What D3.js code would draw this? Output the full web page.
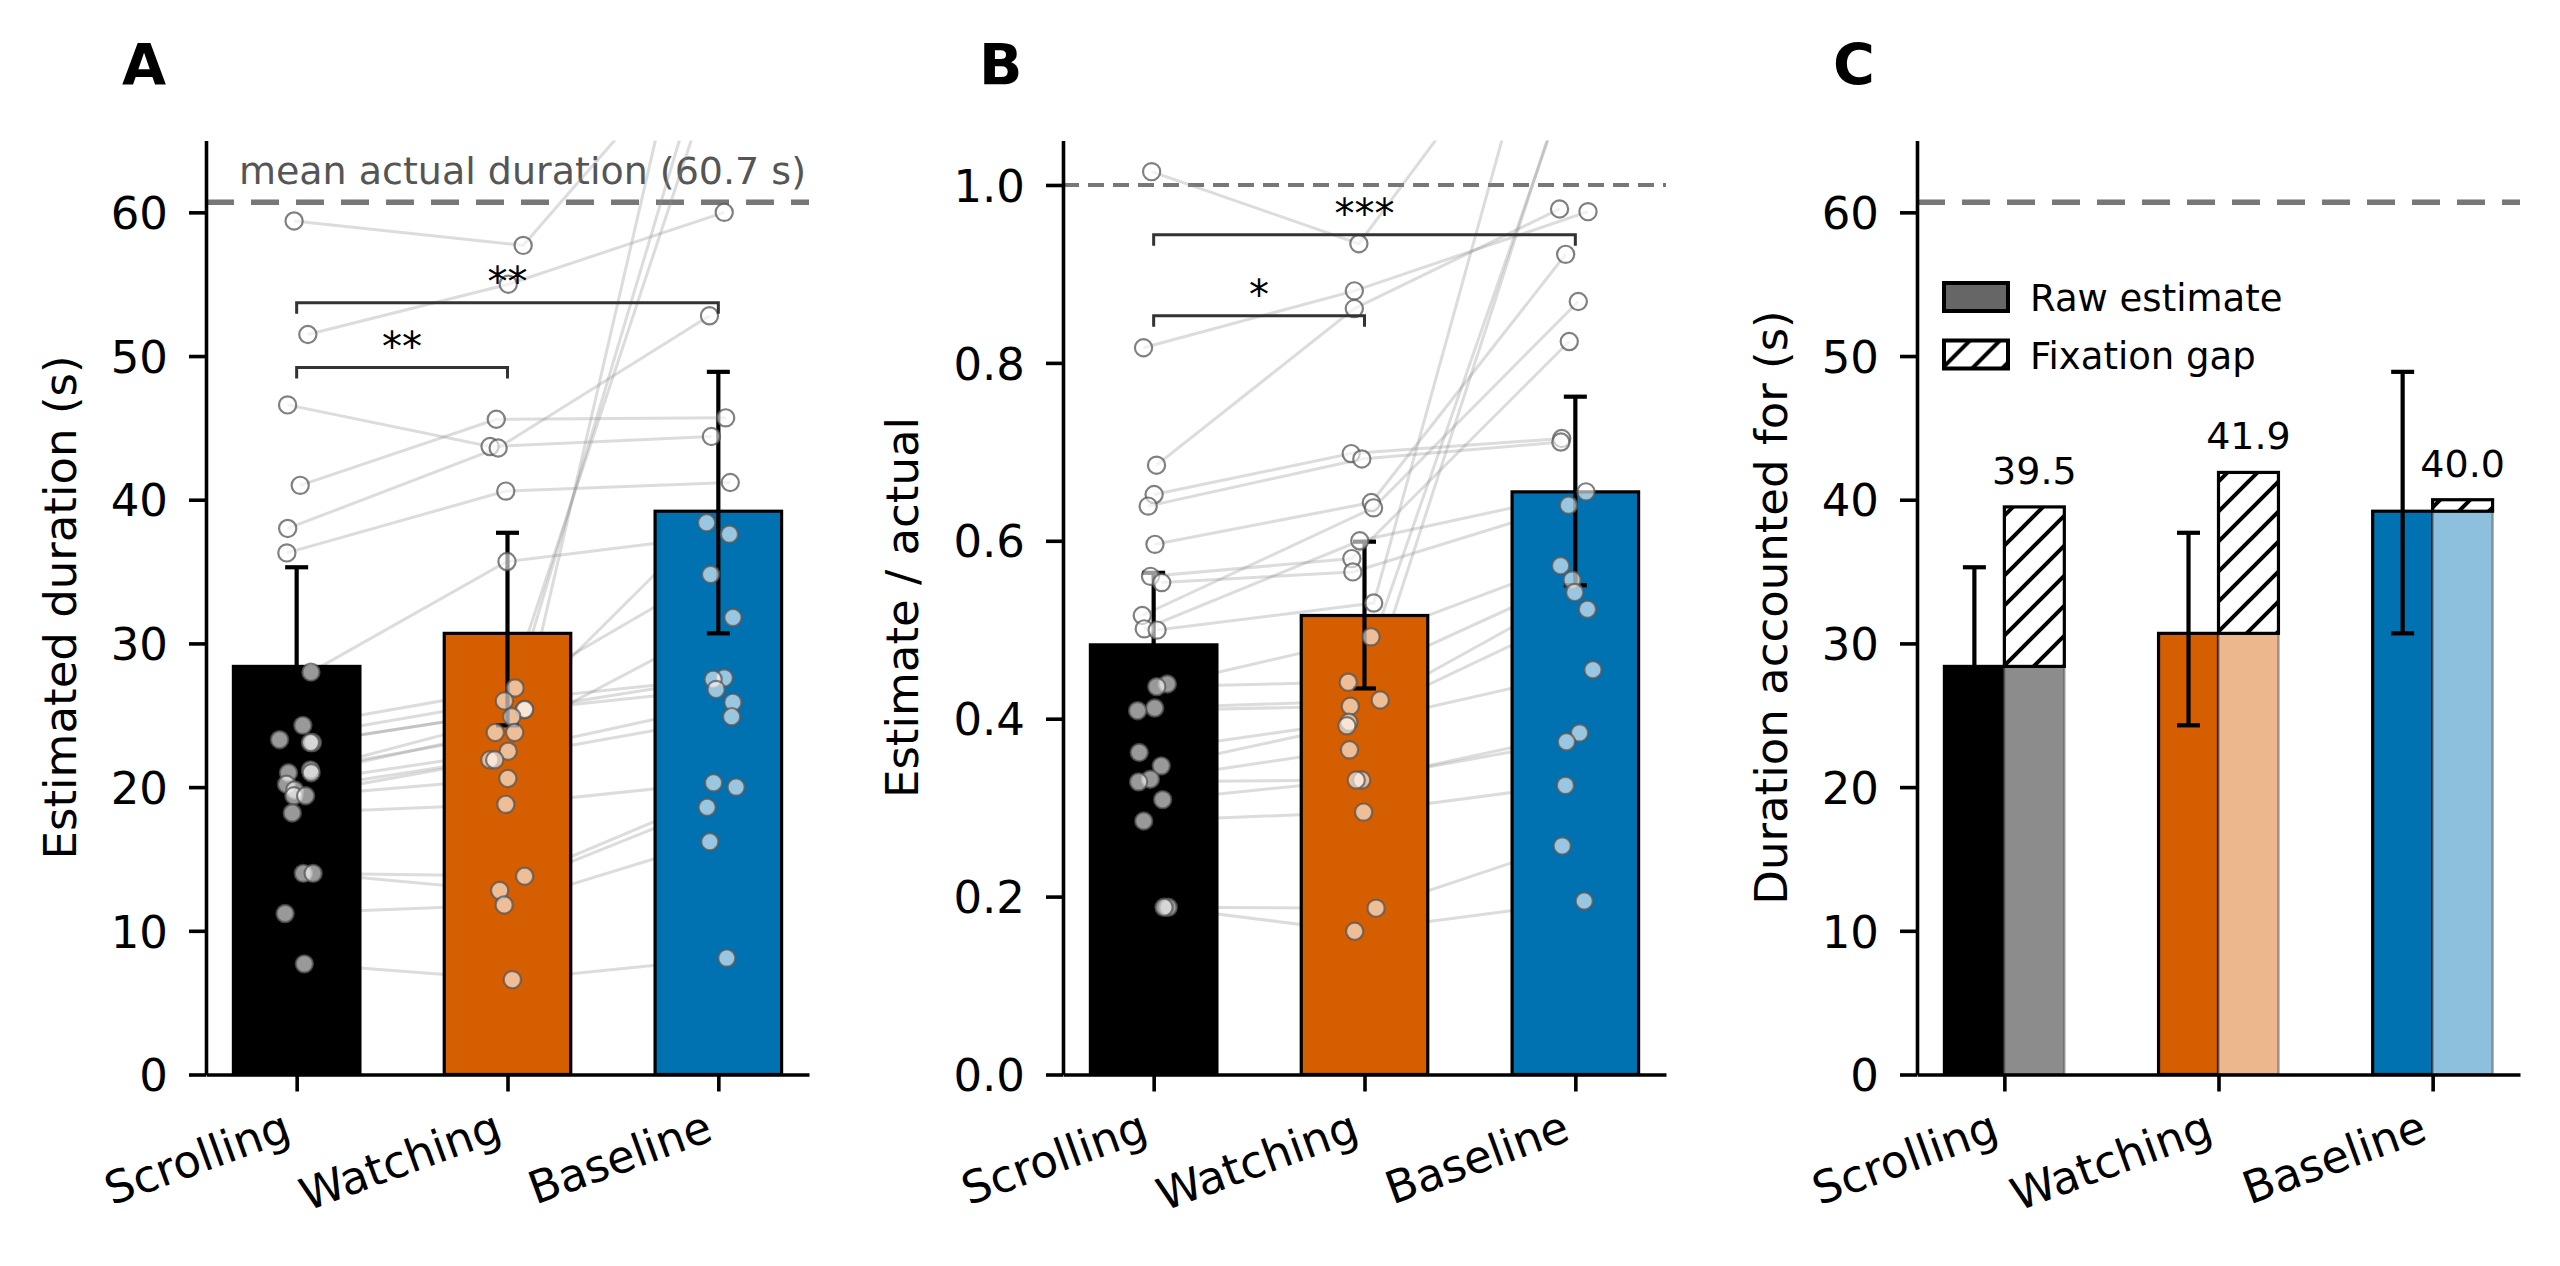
<!DOCTYPE html>
<html>
<head>
<meta charset="utf-8">
<script src="https://cdn.jsdelivr.net/npm/d3@7"></script>
<style>
  body { margin: 0; background: #fff; }
  svg { display: block; font-family: "DejaVu Sans", sans-serif; }
</style>
</head>
<body>
<div id="chart"></div>
<script>
// ---- data ----
const conditions = ['Scrolling', 'Watching', 'Baseline'];
const meanActual = 60.7;

// panel A: group means of the estimated duration (s) with their intervals
const meanEst = [28.4, 30.7, 39.2];
const ciLoEst = [21.5, 24.3, 30.7];
const ciHiEst = [35.3, 37.7, 48.9];

// panel B: estimate / actual
const meanRatio = [0.483, 0.516, 0.655];
const ciLoRatio = [0.41, 0.434, 0.550];
const ciHiRatio = [0.564, 0.599, 0.762];

// panel C: raw estimate + fixation gap
const fixationTotal = [39.5, 41.9, 40.0];

// participants, panel A (same order across the three arrays)
const estScroll = [59.4, 51.5, 46.6, 41.0, 38.0, 36.3, 28.0, 24.3, 23.3, 23.1, 23.1, 21.2,
  21.0, 21.0, 20.2, 19.8, 19.4, 19.4, 18.2, 14.0, 14.0, 11.2, 7.7];
const estWatch = [57.7, 55.0, 43.7, 45.6, 43.6, 40.6, 35.7, 26.9, 26.0, 25.4, 25.4, 24.9,
  23.8, 23.8, 22.5, 21.9, 21.9, 20.6, 18.8, 13.8, 12.8, 11.8, 6.6];
const estBase = [72, 60.0, 44.4, 45.7, 52.8, 41.2, 37.6, 34.8, 27.6, 27.5, 26.8, 38.4,
  70, 31.8, 25.9, 24.9, 73, 82, 20.3, 20.0, 18.6, 16.2, 8.1];

// participants, panel B
const ratioScroll = [1.015, 0.817, 0.685, 0.652, 0.639, 0.596, 0.560, 0.553, 0.516, 0.501, 0.4996, 0.439,
  0.436, 0.412, 0.409, 0.362, 0.347, 0.332, 0.329, 0.309, 0.285, 0.188, 0.188];
const ratioWatch = [0.934, 0.881, 0.861, 0.698, 0.692, 0.643, 0.580, 0.565, 0.637, 0.600, 0.530, 0.492,
  0.441, 0.421, 0.414, 0.396, 0.392, 0.365, 0.331, 0.331, 0.295, 0.187, 0.161];
const ratioBase = [1.25, 0.970, 0.973, 0.715, 0.711, 0.922, 0.824, 0.640, 0.869, 0.655, 1.30, 0.572,
  0.556, 0.542, 1.15, 0.523, 0.455, 1.20, 0.384, 0.374, 0.325, 0.257, 0.195];

const sigA = [{ from: 0, to: 1, y: 49.2, label: '**' }, { from: 0, to: 2, y: 53.7, label: '**' }];
const sigB = [{ from: 0, to: 1, y: 0.853, label: '*' }, { from: 0, to: 2, y: 0.944, label: '***' }];

// ---- layout ----
const W = 2560, H = 1266;
const plotTop = 140.5, plotBottom = 1074.5, panelW = 603;
const colors = ['#000000', '#D55E00', '#0072B2'];
const lightColors = ['#8c8c8c', '#ecb78c', '#8cc0dc'];
const FONT = '"DejaVu Sans", sans-serif';

const svg = d3.select('#chart').append('svg')
  .attr('width', W).attr('height', H)
  .attr('viewBox', `0 0 ${W} ${H}`);

const defs = svg.append('defs');
const hatch = defs.append('pattern')
  .attr('id', 'hatch').attr('patternUnits', 'userSpaceOnUse')
  .attr('width', 30).attr('height', 30);
hatch.append('rect').attr('width', 30).attr('height', 30).attr('fill', '#fff');
hatch.append('path')
  .attr('d', 'M-8,38 L38,-8 M-38,38 L8,-8 M22,38 L68,-8')
  .attr('stroke', '#000').attr('stroke-width', 4);

const jitter = d3.randomUniform.source(d3.randomLcg(0.4217))(-0.085, 0.085);

function makePanel(id, x0, xDomain, yMax) {
  const g = svg.append('g').attr('class', `panel-${id}`);
  const x = d3.scaleLinear().domain(xDomain).range([x0, x0 + panelW]);
  const y = d3.scaleLinear().domain([0, yMax]).range([plotBottom, plotTop]);
  defs.append('clipPath').attr('id', `clip-${id}`)
    .append('rect').attr('x', x0).attr('y', plotTop)
    .attr('width', panelW).attr('height', plotBottom - plotTop);
  return { g, x, y, x0 };
}

function drawAxes(p, yTicks, yFmt, yLabel, xTicks, labelOffset) {
  const { g, x, y, x0 } = p;
  const yAxis = g.append('g').attr('transform', `translate(${x0},0)`)
    .call(d3.axisLeft(y).tickValues(yTicks).tickFormat(yFmt)
      .tickSize(17).tickSizeOuter(0).tickPadding(21));
  const xAxis = g.append('g').attr('transform', `translate(0,${plotBottom})`)
    .call(d3.axisBottom(x).tickValues(xTicks).tickFormat((d, i) => conditions[i])
      .tickSize(17).tickSizeOuter(0));
  [yAxis, xAxis].forEach(a => {
    a.attr('font-family', FONT).attr('font-size', 45);
    a.selectAll('.domain, .tick line').attr('stroke', '#000').attr('stroke-width', 3.6);
    a.selectAll('text').attr('fill', '#000');
  });
  yAxis.selectAll('text').attr('dy', '0.36em');
  xAxis.selectAll('text')
    .attr('y', null).attr('dy', null).attr('x', null)
    .attr('text-anchor', 'end')
    .attr('transform', 'translate(-4,65) rotate(-20)');
  g.append('text')
    .attr('transform', `translate(${x0 - labelOffset},${(plotTop + plotBottom) / 2}) rotate(-90)`)
    .attr('text-anchor', 'middle').attr('font-size', 45).attr('font-family', FONT)
    .text(yLabel);
}

function panelLetter(p, letter) {
  p.g.append('text').attr('x', p.x0 - 84).attr('y', 85)
    .attr('font-size', 57).attr('font-weight', 'bold').attr('font-family', FONT)
    .text(letter);
}

function refLine(p, value, width, dash) {
  p.g.append('line')
    .attr('x1', p.x0).attr('x2', p.x0 + panelW)
    .attr('y1', p.y(value)).attr('y2', p.y(value))
    .attr('stroke', '#777').attr('stroke-width', width)
    .attr('stroke-dasharray', dash);
}

function errorBars(p, xs, lo, hi) {
  const eg = p.g.append('g').attr('class', 'errorbars');
  xs.forEach((cx, i) => {
    eg.append('line').attr('x1', cx).attr('x2', cx)
      .attr('y1', p.y(lo[i])).attr('y2', p.y(hi[i]))
      .attr('stroke', '#000').attr('stroke-width', 4.2);
    [lo[i], hi[i]].forEach(v => {
      eg.append('line').attr('x1', cx - 11.5).attr('x2', cx + 11.5)
        .attr('y1', p.y(v)).attr('y2', p.y(v))
        .attr('stroke', '#000').attr('stroke-width', 4.2);
    });
  });
}

function pairedPanel(p, means, lo, hi, series, sig) {
  const { g, x, y } = p;
  const n = series[0].length;
  const jit = series.map(() => d3.range(n).map(() => jitter()));
  const pts = d3.range(n).map(i => series.map((s, c) => [x(c + jit[c][i]), y(s[i])]));

  g.append('g').attr('clip-path', `url(#clip-${p.id})`)
    .selectAll('path').data(pts).join('path')
    .attr('d', d3.line())
    .attr('fill', 'none').attr('stroke', '#8a8a8a')
    .attr('stroke-opacity', 0.3).attr('stroke-width', 3);

  g.append('g').selectAll('rect').data(means).join('rect')
    .attr('x', (d, i) => x(i - 0.3)).attr('width', x(0.3) - x(-0.3))
    .attr('y', d => y(d)).attr('height', d => y(0) - y(d))
    .attr('fill', (d, i) => colors[i])
    .attr('stroke', '#000').attr('stroke-width', 3.2);

  errorBars(p, means.map((d, i) => x(i)), lo, hi);

  const dots = g.append('g').attr('clip-path', `url(#clip-${p.id})`);
  series.forEach((s, c) => {
    dots.selectAll(null).data(s).join('circle')
      .attr('cx', (d, i) => x(c + jit[c][i])).attr('cy', d => y(d)).attr('r', 8.6)
      .attr('fill', '#fff').attr('fill-opacity', 0.6)
      .attr('stroke', '#555').attr('stroke-opacity', 0.75).attr('stroke-width', 2.2);
  });

  const sg = g.append('g').attr('class', 'sig');
  sig.forEach(s => {
    const yy = y(s.y);
    sg.append('path')
      .attr('d', `M${x(s.from)},${yy + 11}V${yy}H${x(s.to)}V${yy + 11}`)
      .attr('fill', 'none').attr('stroke', '#333').attr('stroke-width', 3);
    sg.append('text').attr('x', (x(s.from) + x(s.to)) / 2).attr('y', yy - 7)
      .attr('text-anchor', 'middle').attr('font-size', 40).attr('font-family', FONT)
      .text(s.label);
  });
}

// ---- panel A ----
const pA = makePanel('A', 206, [-0.43, 2.43], 65); pA.id = 'A';
refLine(pA, meanActual, 5.5, '28,17');
pA.g.append('text').attr('x', pA.x0 + panelW - 3).attr('y', 184)
  .attr('text-anchor', 'end').attr('font-size', 38).attr('font-family', FONT)
  .attr('fill', '#555').text(`mean actual duration (${meanActual} s)`);
pairedPanel(pA, meanEst, ciLoEst, ciHiEst, [estScroll, estWatch, estBase], sigA);
drawAxes(pA, d3.range(0, 61, 10), d3.format('d'), 'Estimated duration (s)', [0, 1, 2], 130);
panelLetter(pA, 'A');

// ---- panel B ----
const pB = makePanel('B', 1063, [-0.43, 2.43], 1.05); pB.id = 'B';
refLine(pB, 1.0, 3.8, '16,9');
pairedPanel(pB, meanRatio, ciLoRatio, ciHiRatio, [ratioScroll, ratioWatch, ratioBase], sigB);
drawAxes(pB, [0, 0.2, 0.4, 0.6, 0.8, 1.0], d3.format('.1f'), 'Estimate / actual', [0, 1, 2], 145);
panelLetter(pB, 'B');

// ---- panel C ----
const pC = makePanel('C', 1917, [-0.408, 2.408], 65); pC.id = 'C';
refLine(pC, meanActual, 5.5, '28,17');
{
  const { g, x, y } = pC;
  const bw = 0.28;
  g.append('g').selectAll('rect').data(meanEst).join('rect')
    .attr('x', (d, i) => x(i - bw)).attr('width', x(bw) - x(0))
    .attr('y', d => y(d)).attr('height', d => y(0) - y(d))
    .attr('fill', (d, i) => colors[i]).attr('stroke', '#000').attr('stroke-width', 3.2);
  g.append('g').selectAll('rect').data(meanEst).join('rect')
    .attr('x', (d, i) => x(i)).attr('width', x(bw) - x(0))
    .attr('y', d => y(d)).attr('height', d => y(0) - y(d))
    .attr('fill', (d, i) => lightColors[i])
    .attr('stroke', '#555').attr('stroke-opacity', 0.55).attr('stroke-width', 2.4);
  g.append('g').selectAll('rect').data(fixationTotal).join('rect')
    .attr('x', (d, i) => x(i)).attr('width', x(bw) - x(0))
    .attr('y', d => y(d)).attr('height', (d, i) => y(meanEst[i]) - y(d))
    .attr('fill', 'url(#hatch)').attr('stroke', '#000').attr('stroke-width', 3.2);
  errorBars(pC, meanEst.map((d, i) => x(i - bw / 2)), ciLoEst, ciHiEst);
  g.append('g').selectAll('text').data(fixationTotal).join('text')
    .attr('x', (d, i) => x(i + bw / 2)).attr('y', d => y(d) - 23)
    .attr('text-anchor', 'middle').attr('font-size', 38).attr('font-family', FONT)
    .text(d => d.toFixed(1));

  // legend
  const lg = g.append('g').attr('transform', `translate(${pC.x0 + 25},281)`);
  const items = [{ label: 'Raw estimate', fill: '#666' }, { label: 'Fixation gap', fill: 'url(#hatch)' }];
  items.forEach((it, i) => {
    const row = lg.append('g').attr('transform', `translate(0,${i * 57.5})`);
    row.append('rect').attr('x', 2).attr('y', 2).attr('width', 64).attr('height', 28)
      .attr('fill', it.fill).attr('stroke', '#000').attr('stroke-width', 4);
    row.append('text').attr('x', 88).attr('y', 30).attr('font-size', 37)
      .attr('font-family', FONT).text(it.label);
  });
}
drawAxes(pC, d3.range(0, 61, 10), d3.format('d'), 'Duration accounted for (s)', [0, 1, 2], 130);
panelLetter(pC, 'C');
</script>
</body>
</html>
